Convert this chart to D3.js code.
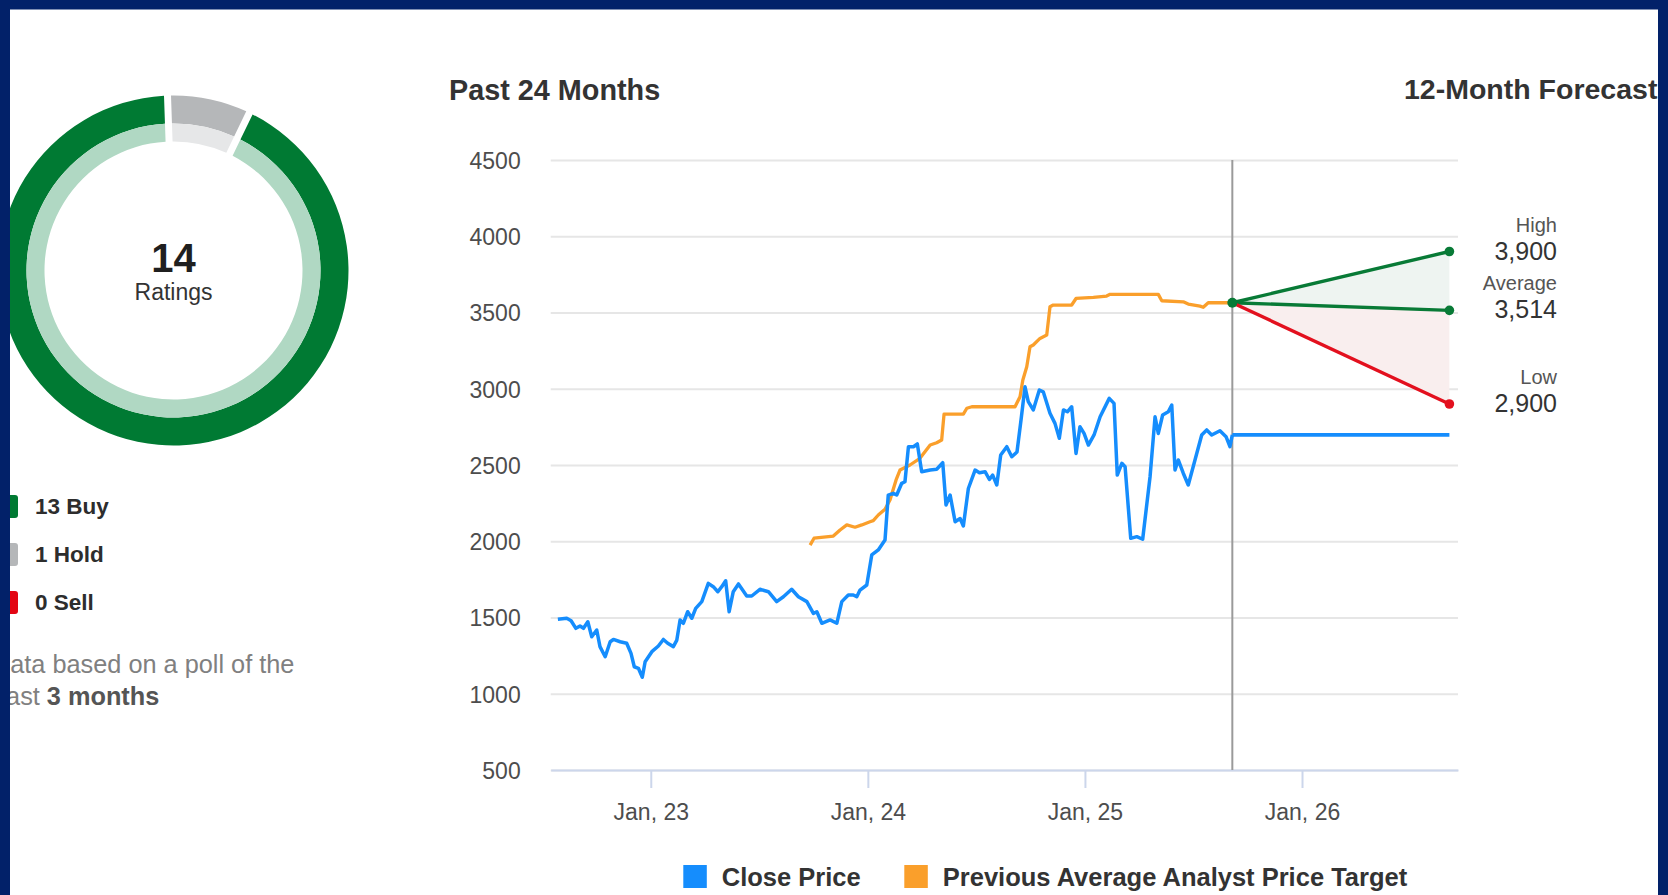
<!DOCTYPE html>
<html><head><meta charset="utf-8">
<script src="https://cdn.jsdelivr.net/npm/d3@7"></script>
<style>
html,body{margin:0;padding:0;background:#fff;overflow:hidden}
svg{display:block;font-family:"Liberation Sans",Arial,Helvetica,sans-serif}
</style></head><body>
<svg id="c" width="1668" height="895"></svg>
<script>
// ---------- data ----------
const ratingLabels = ["Buy", "Hold", "Sell"];
const ratingCounts = [13, 1, 0];
const ratingsTotalLabel = "Ratings";

// close price (time as fractional year)
const closeT = [2022.572,2022.613,2022.633,2022.655,2022.674,2022.690,2022.710,2022.728,2022.751,2022.766,
2022.790,2022.813,2022.828,2022.859,2022.889,2022.909,2022.924,2022.943,2022.961,2022.974,
2023.005,2023.035,2023.058,2023.078,2023.104,2023.120,2023.135,2023.150,2023.170,2023.189,
2023.207,2023.235,2023.265,2023.288,2023.309,2023.327,2023.345,2023.361,2023.380,2023.404,
2023.442,2023.465,2023.503,2023.542,2023.580,2023.611,2023.649,2023.680,2023.719,2023.749,
2023.765,2023.788,2023.826,2023.857,2023.880,2023.910,2023.933,2023.949,2023.964,2023.995,
2024.018,2024.048,2024.079,2024.094,2024.117,2024.133,2024.156,2024.171,2024.187,2024.210,
2024.228,2024.248,2024.287,2024.317,2024.345,2024.360,2024.379,2024.402,2024.425,2024.440,
2024.463,2024.494,2024.514,2024.540,2024.560,2024.575,2024.594,2024.612,2024.640,2024.663,
2024.687,2024.706,2024.724,2024.739,2024.762,2024.790,2024.808,2024.839,2024.862,2024.882,
2024.901,2024.919,2024.939,2024.959,2024.977,2024.996,2025.016,2025.042,2025.070,2025.112,
2025.134,2025.149,2025.170,2025.185,2025.211,2025.239,2025.266,2025.300,2025.323,2025.338,
2025.358,2025.384,2025.400,2025.415,2025.430,2025.453,2025.476,2025.507,2025.538,2025.561,
2025.584,2025.622,2025.650,2025.668,2025.679];
const closeV = [1488,1495,1479,1429,1444,1429,1472,1374,1418,1309,
1243,1341,1356,1341,1331,1265,1177,1167,1108,1210,
1276,1313,1356,1331,1309,1352,1484,1462,1538,1495,
1560,1604,1724,1702,1669,1702,1741,1538,1669,1720,
1641,1641,1685,1669,1604,1636,1685,1636,1604,1527,
1538,1462,1484,1462,1604,1648,1648,1636,1680,1713,
1910,1943,2008,2303,2314,2303,2380,2390,2620,2620,
2638,2456,2467,2472,2515,2238,2303,2128,2149,2100,
2346,2467,2449,2456,2405,2434,2369,2566,2620,2554,
2585,2800,3013,2915,2861,2992,2980,2839,2773,2675,
2861,2849,2882,2576,2751,2707,2631,2697,2816,2937,
2904,2434,2511,2489,2019,2030,2013,2423,2816,2707,
2828,2849,2893,2467,2533,2446,2369,2533,2697,2730,
2697,2725,2686,2620,2697];

// previous average analyst price target
const targetT = [2023.734,2023.752,2023.841,2023.872,2023.903,2023.941,2023.972,2024.010,2024.025,2024.048,
2024.079,2024.102,2024.130,2024.148,2024.194,2024.240,2024.287,2024.317,2024.340,2024.351,
2024.440,2024.456,2024.479,2024.678,2024.701,2024.714,2024.732,2024.747,2024.762,2024.793,
2024.824,2024.839,2024.854,2024.939,2024.959,2025.039,2025.100,2025.116,2025.338,2025.354,
2025.453,2025.476,2025.530,2025.545,2025.568,2025.679];
const targetV = [1975,2020,2034,2074,2107,2092,2107,2128,2135,2172,
2210,2270,2402,2467,2500,2544,2631,2646,2664,2834,
2834,2872,2882,2882,2948,3057,3144,3275,3287,3330,
3352,3538,3549,3549,3592,3599,3608,3619,3619,3577,
3570,3555,3542,3534,3564,3564];

// 12-month forecast
const forecastStartT = 2025.679;
const forecastEndT = 2026.679;
const forecastLabels = ["High", "Average", "Low"];
const forecastValues = [3900, 3514, 2900];

const yTicks = [500, 1000, 1500, 2000, 2500, 3000, 3500, 4000, 4500];
const xTicks = [2023, 2024, 2025, 2026];
const xTickLabels = ["Jan, 23", "Jan, 24", "Jan, 25", "Jan, 26"];
const legendLabels = ["Close Price", "Previous Average Analyst Price Target"];

// ---------- styles ----------
const C = {
  navy: "#022169", blue: "#158dfd", orange: "#fa9f2b",
  green: "#087a36", red: "#e3101e", grid: "#e6e6e6", axis: "#ccd6eb",
  divider: "#9a9a9a", text: "#333333", axisText: "#4d4d4d",
  buy: ["#007a33", "#b0d8c3"], hold: ["#b5b7b9", "#e6e7e8"], sell: ["#e30613", "#f3b4b7"]
};

const svg = d3.select("#c");

// ---------- donut ----------
const donut = svg.append("g").attr("transform", "translate(173.5,270.5)");
const total = d3.sum(ratingCounts);
const ratings = ratingLabels.map((l, i) => ({label: l, count: ratingCounts[i], colors: [C.buy, C.hold, C.sell][i]}));
const startA = -ratingCounts[0] / total * 2 * Math.PI;
const pie = d3.pie().sort(null).value(d => d.count)
  .startAngle(startA).endAngle(startA + 2 * Math.PI).padAngle(0.04);
const arcs = pie(ratings.filter(d => d.count > 0));
const outerArc = d3.arc().innerRadius(147).outerRadius(175).padRadius(175);
const innerArc = d3.arc().innerRadius(129).outerRadius(147).padRadius(175);
donut.selectAll("path.o").data(arcs).join("path").attr("class", "o")
  .attr("d", outerArc).attr("fill", d => d.data.colors[0]);
donut.selectAll("path.i").data(arcs).join("path").attr("class", "i")
  .attr("d", innerArc).attr("fill", d => d.data.colors[1]);
donut.append("text").attr("text-anchor", "middle").attr("y", 1.5)
  .attr("font-size", 40).attr("font-weight", "bold").attr("fill", "#1f1f1f").text(total);
donut.append("text").attr("text-anchor", "middle").attr("y", 29.5)
  .attr("font-size", 23).attr("fill", "#333").text(ratingsTotalLabel);

// ratings legend
const rl = svg.append("g");
ratings.forEach((d, i) => {
  const yb = 514 + i * 48;
  rl.append("rect").attr("x", -4).attr("y", yb - 19).attr("width", 22).attr("height", 23)
    .attr("rx", 3).attr("fill", d.colors[0]);
  rl.append("text").attr("x", 35).attr("y", yb).attr("font-size", 22.5).attr("font-weight", "bold")
    .attr("fill", "#2d2d2d").text(d.count + " " + d.label);
});
const fn = svg.append("g").attr("font-size", 25.3).attr("fill", "#808080");
fn.append("text").attr("x", -8).attr("y", 673).text("Data based on a poll of the");
const fn2 = fn.append("text").attr("x", -8).attr("y", 705);
fn2.append("tspan").text("Last ");
fn2.append("tspan").attr("font-weight", "bold").attr("fill", "#555").text("3 months");

// ---------- price chart ----------
const x = d3.scaleLinear().domain([2022.539, 2026.7186]).range([550.7, 1458]);
const y = d3.scaleLinear().domain([500, 4500]).range([770, 160]);

svg.append("text").attr("x", 449).attr("y", 100).attr("font-size", 28.8).attr("font-weight", "bold")
  .attr("fill", C.text).text("Past 24 Months");
svg.append("text").attr("x", 1404).attr("y", 99).attr("font-size", 28.5).attr("font-weight", "bold")
  .attr("fill", C.text).text("12-Month Forecast");

// gridlines
const grid = svg.append("g").attr("transform", `translate(${x.range()[0]},0)`)
  .call(d3.axisLeft(y).tickValues(yTicks).tickSize(-(x.range()[1] - x.range()[0])).tickFormat(""));
grid.select(".domain").remove();
grid.selectAll("line").attr("stroke", C.grid).attr("stroke-width", 2);

// y labels
const yAx = svg.append("g").attr("transform", `translate(${x.range()[0]},0)`)
  .call(d3.axisLeft(y).tickValues(yTicks).tickSize(0).tickPadding(30).tickFormat(d3.format("d")));
yAx.select(".domain").remove();
yAx.selectAll("text").attr("font-size", 23).attr("fill", C.axisText).attr("font-family", null).attr("dy", "0.36em");

// x axis
const xAx = svg.append("g").attr("transform", "translate(0,770)")
  .call(d3.axisBottom(x).tickValues(xTicks).tickFormat((d, i) => xTickLabels[i])
    .tickSize(18).tickSizeOuter(0).tickPadding(15.5));
xAx.select(".domain").attr("stroke", C.axis).attr("stroke-width", 2);
xAx.selectAll("line").attr("stroke", C.axis).attr("stroke-width", 2);
xAx.selectAll("text").attr("font-size", 23).attr("fill", C.axisText).attr("font-family", null);

// divider
svg.append("line").attr("x1", x(forecastStartT)).attr("x2", x(forecastStartT))
  .attr("y1", y(4500)).attr("y2", y(500)).attr("stroke", C.divider).attr("stroke-width", 2);

// forecast fills
const startV = targetV[targetV.length - 1];
const P0 = [x(forecastStartT), y(startV)];
const Ph = [x(forecastEndT), y(forecastValues[0])];
const Pa = [x(forecastEndT), y(forecastValues[1])];
const Pl = [x(forecastEndT), y(forecastValues[2])];
svg.append("path").attr("d", d3.line()([P0, Ph, Pa])).attr("fill", "#eef4f1");
svg.append("path").attr("d", d3.line()([P0, Pa, Pl])).attr("fill", "#f9eeee");

// lines
const line = d3.line().x(d => x(d[0])).y(d => y(d[1]));
const closeData = closeT.map((t, i) => [t, closeV[i]]);
const targetData = targetT.map((t, i) => [t, targetV[i]]);
svg.append("path").attr("d", line(targetData)).attr("fill", "none").attr("stroke", C.orange)
  .attr("stroke-width", 3.3).attr("stroke-linejoin", "round");
svg.append("path").attr("d", line(closeData)).attr("fill", "none").attr("stroke", C.blue)
  .attr("stroke-width", 3.5).attr("stroke-linejoin", "round");
// last close carried forward
const lastClose = closeV[closeV.length - 1];
svg.append("path").attr("d", line([[forecastStartT, lastClose], [forecastEndT, lastClose]]))
  .attr("fill", "none").attr("stroke", C.blue).attr("stroke-width", 3.8);

// forecast lines
const fcColors = [C.green, C.green, C.red];
forecastValues.forEach((v, i) => {
  svg.append("path").attr("d", line([[forecastStartT, startV], [forecastEndT, v]]))
    .attr("fill", "none").attr("stroke", fcColors[i]).attr("stroke-width", 3.4);
});
forecastValues.forEach((v, i) => {
  svg.append("circle").attr("cx", x(forecastEndT)).attr("cy", y(v)).attr("r", 4.8).attr("fill", fcColors[i]);
  svg.append("text").attr("x", 1557).attr("y", y(v) - 20).attr("text-anchor", "end")
    .attr("font-size", 20).attr("fill", "#555").text(forecastLabels[i]);
  svg.append("text").attr("x", 1557).attr("y", y(v) + 8).attr("text-anchor", "end")
    .attr("font-size", 25).attr("fill", C.text).text(d3.format(",")(v));
});
svg.append("circle").attr("cx", P0[0]).attr("cy", P0[1]).attr("r", 5).attr("fill", C.green);

// legend
const lg = svg.append("g");
const lgX = [683.3, 904.3];
[C.blue, C.orange].forEach((col, i) => {
  lg.append("rect").attr("x", lgX[i]).attr("y", 865).attr("width", 23.5).attr("height", 23).attr("fill", col);
  lg.append("text").attr("x", lgX[i] + 38.5).attr("y", 886).attr("font-size", 25.5).attr("font-weight", "bold")
    .attr("fill", C.text).text(legendLabels[i]);
});

// frame
svg.append("rect").attr("x", 0).attr("y", 0).attr("width", 1668).attr("height", 9.5).attr("fill", C.navy);
svg.append("rect").attr("x", 0).attr("y", 0).attr("width", 10).attr("height", 895).attr("fill", C.navy);
svg.append("rect").attr("x", 1658).attr("y", 0).attr("width", 10).attr("height", 895).attr("fill", C.navy);
</script>
</body></html>
